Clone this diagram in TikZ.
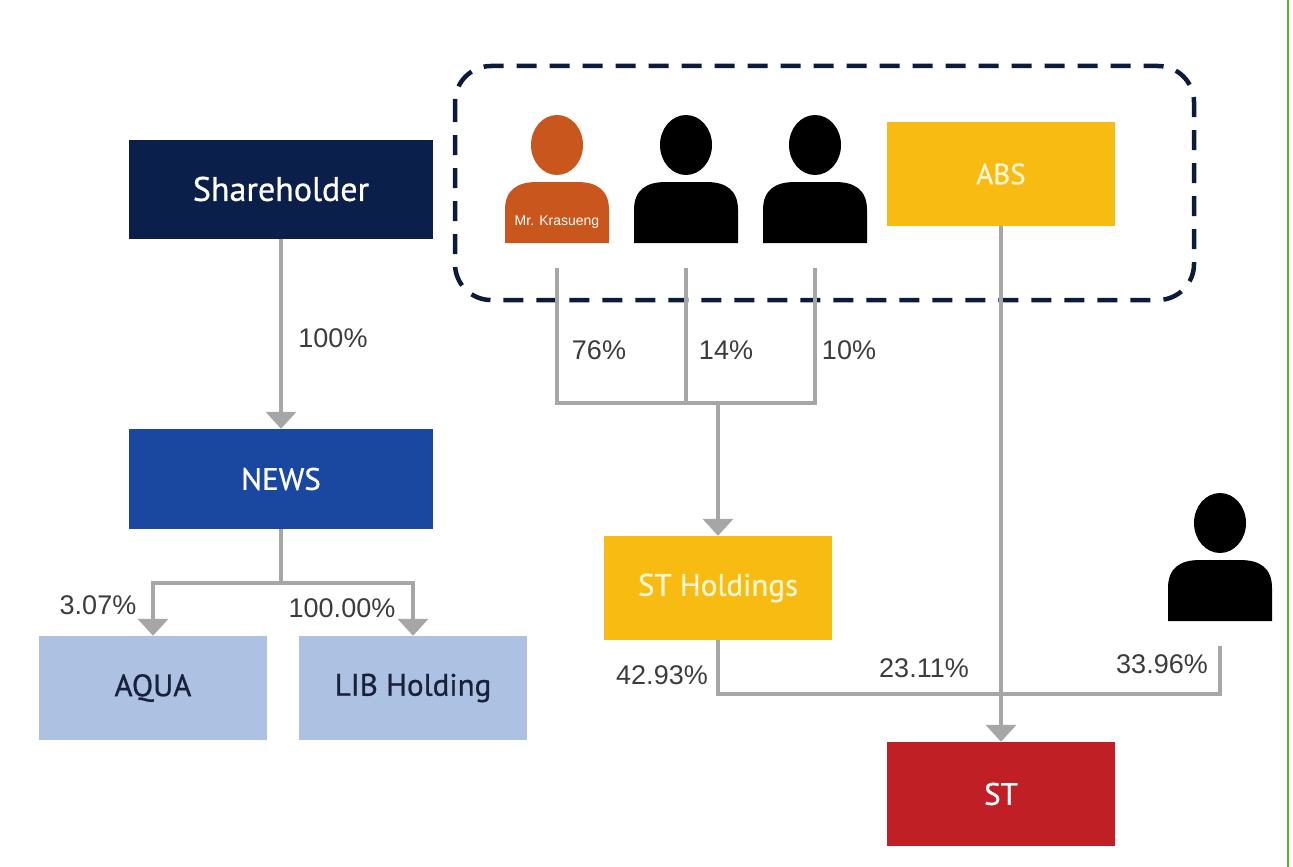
\documentclass[tikz,border=0pt]{standalone}
\usepackage{fontspec}
\setmainfont{Liberation Sans}
\newfontfamily\boxfont[FakeBold=0.8]{PT Sans}
\usepackage{tikz}
\usetikzlibrary{positioning, arrows.meta, calc}
\definecolor{nachtblau}{RGB}{11,31,75}
\definecolor{newsblau}{RGB}{26,71,160}
\definecolor{hellblau}{RGB}{173,194,227}
\definecolor{dunkel}{RGB}{24,32,60}
\definecolor{gold}{RGB}{248,187,18}
\definecolor{creme}{RGB}{255,246,214}
\definecolor{rot}{RGB}{192,31,38}
\definecolor{rost}{RGB}{201,86,29}
\definecolor{grau}{RGB}{166,166,166}
\definecolor{textgrau}{RGB}{60,60,60}
\definecolor{rahmenblau}{RGB}{13,27,58}
\definecolor{gruen}{RGB}{92,184,46}
\tikzset{firma/.style={rectangle,inner sep=0pt,minimum width=228pt,minimum height=104pt,
		text=white,font=\boxfont\fontsize{31}{33}\selectfont},
	linie/.style={draw=grau,line width=4pt},
	pfeil/.style={linie,-{Triangle[width=30pt,length=17pt]}},
	wert/.style={inner sep=0pt,text=textgrau,font=\fontsize{27}{29}\selectfont},
	rahmen/.style={draw=rahmenblau,line width=4.5pt,dash pattern=on 20pt off 13pt,rounded corners=36pt},
	mann/.pic={
		\fill[#1] (0,0) ellipse [x radius=26pt, y radius=30pt];
		\fill[#1] (-52,98) -- (-52,65) .. controls (-52,45) and (-40,37) .. (-20,37)
			-- (20,37) .. controls (40,37) and (52,45) .. (52,65) -- (52,98) -- cycle;
		\coordinate (-fuss) at (0,123);
	} }
\begin{document}
\begin{tikzpicture}[x=1pt,y=-1pt]
	\useasboundingbox (0,0) rectangle (1293,867);
	\draw[gruen,line width=2pt] (1288,0) -- (1288,867);
	\draw[rahmen] (455,66) rectangle (1194,300);

	\node (sh) [firma,fill=nachtblau,minimum width=304pt,minimum height=99pt,
		font=\boxfont\fontsize{34}{36}\selectfont] at (281,189) {Shareholder};
	\node (news) [firma,fill=newsblau,minimum width=304pt,minimum height=100pt] at (281,479) {NEWS};
	\node (aqua) [firma,fill=hellblau,text=dunkel] at (153,688) {AQUA};
	\node (lib) [firma,fill=hellblau,text=dunkel] at (413,688) {LIB Holding};
	\node (abs) [firma,fill=gold,text=creme,font=\boxfont\fontsize{29}{31}\selectfont] at (1001,174) {ABS};
	\node (sth) [firma,fill=gold,text=creme] at (718,588) {ST Holdings};
	\node (st) [firma,fill=rot] at (1001,794) {ST};

	\pic (p1) at (557,145) {mann=rost};
	\pic (p2) at (686,145) {mann=black};
	\pic (p3) at (815,145) {mann=black};
	\pic (p4) at (1220,523) {mann=black};
	\node (mk) [inner sep=0pt,text=white,font=\fontsize{14}{16}\selectfont] at (557,222) {Mr. Krasueng};

	\coordinate (nv) at (281,583);
	\coordinate (pv) at (718,403);
	\coordinate (sv) at (1001,694);

	\draw[pfeil] (sh) -- (news);
	\draw[linie] (news.south) -- (nv);
	\draw[pfeil] (nv) -| (aqua.north);
	\draw[pfeil] (nv) -| (lib.north);
	\draw[linie] (p1-fuss) |- (pv) -| (p3-fuss);
	\draw[linie] (p2-fuss) -- (p2-fuss |- pv);
	\draw[pfeil] (pv) -- (sth);
	\draw[pfeil] (abs) -- (st);
	\draw[linie] (sth.south) |- (sv);
	\draw[linie] (p4-fuss) |- (sv);

	\node (w1) [wert] at (333,338) {100\%};
	\node (w2) [wert] at (98,605) {3.07\%};
	\node (w3) [wert] at (342,608) {100.00\%};
	\node (w4) [wert] at (599,350) {76\%};
	\node (w5) [wert] at (726,350) {14\%};
	\node (w6) [wert] at (849,350) {10\%};
	\node (w7) [wert] at (662,675) {42.93\%};
	\node (w8) [wert] at (924,668) {23.11\%};
	\node (w9) [wert] at (1162,664) {33.96\%};
\end{tikzpicture}
\end{document}
